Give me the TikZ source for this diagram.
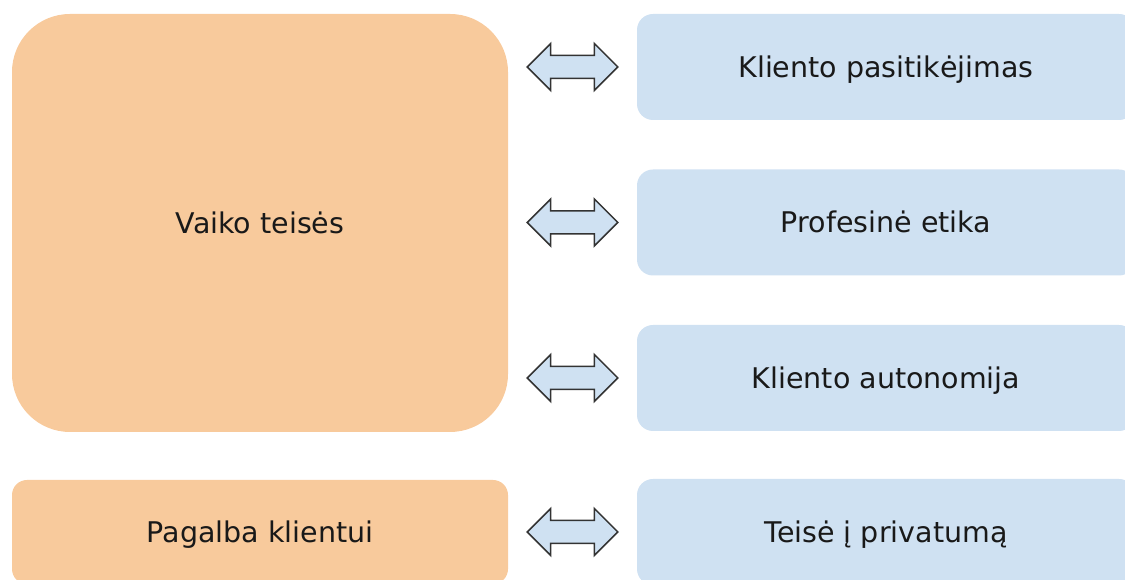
\documentclass[tikz,border=0pt]{standalone}
\usepackage{fontspec}
\setmainfont{DejaVu Sans}
\usetikzlibrary{calc}
\definecolor{orfill}{HTML}{F8CA9C}
\definecolor{blfill}{HTML}{CFE1F2}
\definecolor{arline}{HTML}{333333}
\tikzset{
  txt/.style={font=\fontsize{28.5}{34}\selectfont, text height=20.8pt, text depth=0pt, text=black!90},
  orbox/.style={txt, fill=orfill, draw=none, rounded corners=15pt, inner sep=0pt},
  blbox/.style={txt, fill=blfill, draw=none, rounded corners=16pt, inner sep=0pt, minimum width=498pt, minimum height=106pt},
  barrow/.style={fill=blfill, draw=arline, line width=1.5pt, line join=miter}
}
\newcommand\blockarrow[2]{%
  \draw[barrow] (#1) -- ++(23.5,23.5) -- ++(0,-12) -- ($(#2)+(-23.5,11.5)$) -- ++(0,12) -- (#2)
    -- ++(-23.5,-23.5) -- ++(0,12) -- ($(#1)+(23.5,-11.5)$) -- ++(0,-12) -- cycle;}
\begin{document}
\begin{tikzpicture}[x=1pt,y=1pt]
\useasboundingbox (0,0) rectangle (1125,580);
\clip (0,0) rectangle (1125,580);
% orange boxes
\node[orbox, rounded corners=58pt, minimum width=496pt, minimum height=418pt] (vt) at (260,357) {Vaiko teisės};
\node[orbox, minimum width=496pt, minimum height=104pt] (pk) at (260,48) {Pagalba klientui};
% blue boxes
\node[blbox] (kp) at (886,513) {Kliento pasitikėjimas};
\node[blbox] (pe) at (886,357.5) {Profesinė etika};
\node[blbox] (ka) at (886,202) {Kliento autonomija};
\node[blbox] (tp) at (886,48) {Teisė į privatumą};
% arrows
\coordinate (l1) at ([xshift=19pt]vt.east |- kp.west);
\coordinate (r1) at ([xshift=-19pt]kp.west);
\coordinate (l2) at ([xshift=19pt]vt.east |- pe.west);
\coordinate (r2) at ([xshift=-19pt]pe.west);
\coordinate (l3) at ([xshift=19pt]vt.east |- ka.west);
\coordinate (r3) at ([xshift=-19pt]ka.west);
\coordinate (l4) at ([xshift=19pt]pk.east);
\coordinate (r4) at ([xshift=-19pt]tp.west);
\blockarrow{l1}{r1}
\blockarrow{l2}{r2}
\blockarrow{l3}{r3}
\blockarrow{l4}{r4}
\end{tikzpicture}
\end{document}
